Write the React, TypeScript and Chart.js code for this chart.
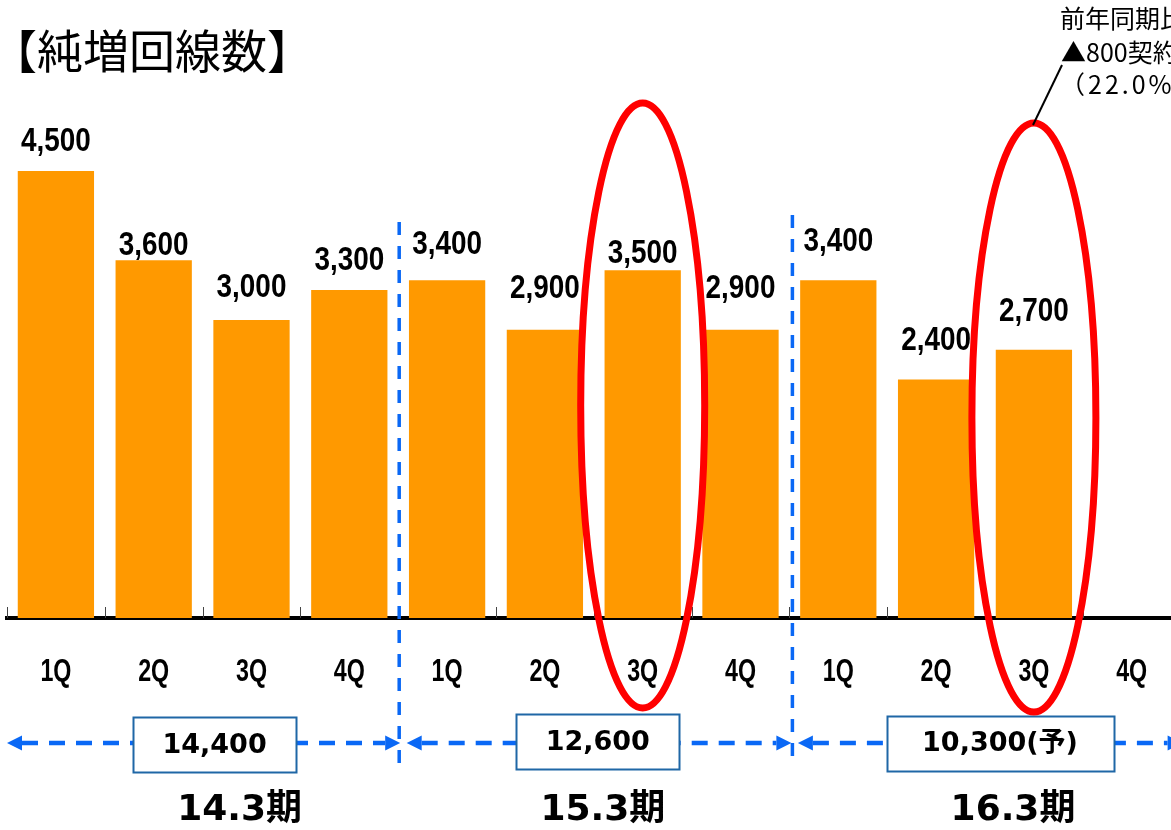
import { useEffect, useRef } from 'react';
import { Chart, registerables } from 'chart.js';

Chart.register(...registerables);

// ---- data ----
const quarters = ['1Q', '2Q', '3Q', '4Q', '1Q', '2Q', '3Q', '4Q', '1Q', '2Q', '3Q', '4Q'];
const netAdds: (number | null)[] = [4500, 3600, 3000, 3300, 3400, 2900, 3500, 2900, 3400, 2400, 2700, null];
const periodNames = ['14.3期', '15.3期', '16.3期'];
const periodTotals = ['14,400', '12,600', '10,300(予)'];
const highlightedIndexes = [6, 10];
const titleText = '【純増回線数】';
const noteLines = ['前年同期比', '▲800契約', '（22.0%減）'];

// ---- styles / layout tweaks ----
const labelLift = [29.5, 15, 32.5, 29.5, 35.5, 41.5, 16.5, 41.5, 38.5, 38.5, 38.5];
const boxDx = [12, 4, 15];
const boxCy = [744.5, 741.5, 743];
const boxW = [163, 163, 227];
const nameDx = [37, 9, 28];
const ellipseTop = [103, 123];
const ellipseBottom = [708, 712];
const arial = "'Liberation Sans', Arial, sans-serif";
const verdanaLike = "'DejaVu Sans', 'Noto Sans CJK JP', sans-serif";
const cjk = "'Noto Sans CJK JP', 'Noto Sans', sans-serif";
const BLUE = '#0A68F5';
const BOX_BLUE = '#1F67A6';

const fmt = (v: number) => v.toLocaleString('en-US');

function narrowText(ctx: CanvasRenderingContext2D, text: string, x: number, y: number, size: number, squeeze: number) {
  ctx.save();
  ctx.translate(x, y);
  ctx.scale(squeeze, 1);
  ctx.font = `bold ${size}px ${arial}`;
  ctx.fillStyle = '#000';
  ctx.textAlign = 'center';
  ctx.textBaseline = 'middle';
  ctx.fillText(text, 0, 0);
  ctx.restore();
}

function arrowHead(ctx: CanvasRenderingContext2D, tipX: number, y: number, dir: number) {
  ctx.beginPath();
  ctx.moveTo(tipX, y);
  ctx.lineTo(tipX - dir * 15, y - 7.5);
  ctx.lineTo(tipX - dir * 15, y + 7.5);
  ctx.closePath();
  ctx.fill();
}

const overlayPlugin = {
  id: 'overlay',
  afterDatasetsDraw(chart: any) {
    const ctx: CanvasRenderingContext2D = chart.ctx;
    const meta = chart.getDatasetMeta(0);
    meta.data.forEach((bar: any, i: number) => {
      const v = netAdds[i];
      if (v == null) return;
      narrowText(ctx, fmt(v), bar.x, bar.y - labelLift[i], 34, 0.82);
    });
  },
  afterDraw(chart: any) {
    const ctx: CanvasRenderingContext2D = chart.ctx;
    const xs = chart.scales.x;
    const area = chart.chartArea;
    const half = (xs.getPixelForValue(1) - xs.getPixelForValue(0)) / 2;
    const boundary = (k: number) => xs.getPixelForValue(k) - half;
    ctx.save();

    // small tick marks at category boundaries (pointing up)
    ctx.strokeStyle = '#444';
    ctx.lineWidth = 1;
    for (let k = 0; k <= quarters.length; k++) {
      const x = Math.round(boundary(k)) + 0.5;
      ctx.beginPath();
      ctx.moveTo(x, area.bottom - 11);
      ctx.lineTo(x, area.bottom);
      ctx.stroke();
    }

    // category labels
    quarters.forEach((q, i) => {
      narrowText(ctx, q, xs.getPixelForValue(i), 672, 31, 0.75);
    });

    // vertical dashed separators
    ctx.strokeStyle = BLUE;
    ctx.lineWidth = 3.5;
    ctx.setLineDash([13, 11]);
    [[4, 1, 222], [8, 3, 215]].forEach(([k, dx, top]) => {
      const x = boundary(k) + dx;
      ctx.beginPath();
      ctx.moveTo(x, top);
      ctx.lineTo(x, 766);
      ctx.stroke();
    });

    // horizontal dashed arrows
    const arrowY = 743;
    ctx.lineWidth = 4.5;
    ctx.setLineDash([16, 11]);
    ctx.fillStyle = BLUE;
    periodNames.forEach((_, i) => {
      const left = boundary(4 * i) + (i === 0 ? 0 : 8.5);
      const right = boundary(4 * i + 4) + 2;
      ctx.beginPath();
      ctx.moveTo(left + 15, arrowY);
      ctx.lineTo(right - 15, arrowY);
      ctx.stroke();
      arrowHead(ctx, left, arrowY, -1);
      arrowHead(ctx, right, arrowY, 1);
    });
    ctx.setLineDash([]);

    // boxed totals and period names
    periodNames.forEach((name, i) => {
      const cx = (boundary(4 * i) + boundary(4 * i + 4)) / 2;
      const bx = cx + boxDx[i];
      const w = boxW[i];
      const h = 55;
      const x0 = Math.round(bx - w / 2) + 0.5;
      const y0 = Math.round(boxCy[i] - h / 2) + 0.5;
      ctx.fillStyle = '#fff';
      ctx.fillRect(x0, y0, w, h);
      ctx.strokeStyle = BOX_BLUE;
      ctx.lineWidth = 2;
      ctx.strokeRect(x0, y0, w, h);
      ctx.fillStyle = '#000';
      ctx.textAlign = 'center';
      ctx.textBaseline = 'middle';
      ctx.font = `bold 27px ${verdanaLike}`;
      ctx.fillText(periodTotals[i], bx, boxCy[i] + 1);

      ctx.font = `bold 36px ${verdanaLike}`;
      ctx.fillText(name, cx + nameDx[i], 811);
    });

    // red ellipses around highlighted bars
    ctx.strokeStyle = '#FF0000';
    ctx.lineWidth = 7;
    highlightedIndexes.forEach((idx, j) => {
      const cx = xs.getPixelForValue(idx);
      const cy = (ellipseTop[j] + ellipseBottom[j]) / 2;
      const ry = (ellipseBottom[j] - ellipseTop[j]) / 2;
      ctx.beginPath();
      ctx.ellipse(cx, cy, 62, ry, 0, 0, Math.PI * 2);
      ctx.stroke();
    });

    // title
    ctx.fillStyle = '#000';
    ctx.textAlign = 'left';
    ctx.textBaseline = 'middle';
    ctx.font = `46px ${cjk}`;
    ctx.fillText(titleText, -9, 51);

    // note (top-right)
    ctx.font = `25px ${cjk}`;
    ctx.fillText(noteLines[0], 1060, 18);
    ctx.fillText(noteLines[1], 1061, 52);
    (ctx as any).letterSpacing = '3px';
    ctx.fillText(noteLines[2], 1060, 84);
    (ctx as any).letterSpacing = '0px';

    // leader line
    ctx.strokeStyle = '#000';
    ctx.lineWidth = 2;
    ctx.beginPath();
    ctx.moveTo(1062, 65);
    ctx.lineTo(1033, 125);
    ctx.stroke();

    ctx.restore();
  },
};

export default function App() {
  const canvasRef = useRef<HTMLCanvasElement | null>(null);

  useEffect(() => {
    if (!canvasRef.current) return;
    const chart = new Chart(canvasRef.current, {
      type: 'bar',
      data: {
        labels: quarters,
        datasets: [
          {
            data: netAdds,
            backgroundColor: '#FF9900',
            barPercentage: 0.78,
            categoryPercentage: 1,
          },
        ],
      },
      options: {
        responsive: false,
        animation: false,
        devicePixelRatio: 1,
        layout: { padding: { left: 7, right: 9.4, top: 0, bottom: 0 } },
        plugins: {
          legend: { display: false },
          tooltip: { enabled: false },
          title: { display: false },
        },
        scales: {
          x: {
            z: 1,
            grid: { display: false },
            border: { display: true, color: '#000', width: 4 },
            ticks: { display: false },
            afterFit: (scale: any) => {
              scale.height = 212;
            },
          },
          y: { display: false, min: 0, max: 6220 },
        },
      },
      plugins: [overlayPlugin],
    } as any);
    return () => chart.destroy();
  }, []);

  return (
    <div
      style={{
        position: 'absolute',
        left: 0,
        top: 0,
        width: 1171,
        height: 830,
        overflow: 'hidden',
        background: '#fff',
      }}
    >
      <canvas ref={canvasRef} width={1190} height={830} style={{ display: 'block', width: 1190, height: 830 }} />
    </div>
  );
}
